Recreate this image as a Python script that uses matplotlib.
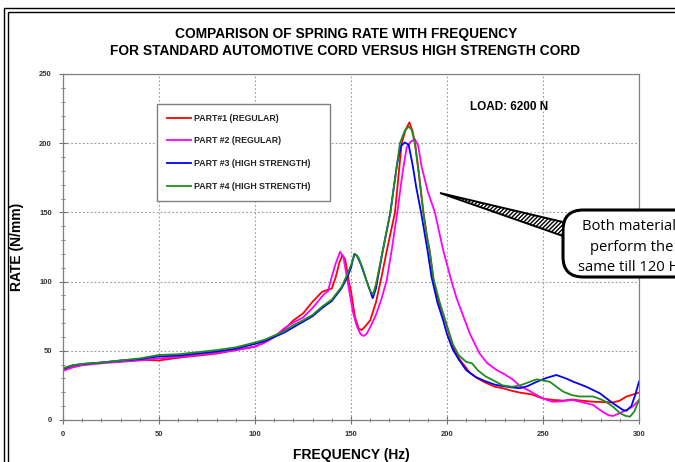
import matplotlib
matplotlib.use("Agg")
import matplotlib.pyplot as plt
from matplotlib.patches import Rectangle, FancyBboxPatch, Polygon

# ---------------- data ----------------
title_lines = ["COMPARISON OF SPRING RATE WITH FREQUENCY",
               "FOR STANDARD AUTOMOTIVE CORD VERSUS HIGH STRENGTH CORD"]
series_labels = ["PART#1 (REGULAR)", "PART #2 (REGULAR)",
                 "PART #3 (HIGH STRENGTH)", "PART #4 (HIGH STRENGTH)"]

p1_x = [0, 5, 10, 20, 30, 40, 50, 60, 70, 80, 90, 100, 105, 110, 115, 120, 125, 130,
        135, 140, 142, 144, 145.5, 147, 149, 150, 152, 154, 155.5, 157, 160, 163, 166,
        168.6, 172.9, 176.4, 178.5, 180.4, 182, 183.3, 185, 187.7, 189.5, 191, 193, 196,
        199, 202, 204, 207, 212, 216, 220, 225, 229.3, 234, 238, 244, 250, 255, 260.5,
        265, 270, 276, 280, 286.5, 290, 293.4, 300]
p1_y = [36.5, 39, 40, 41.5, 42.5, 43.5, 43, 45, 46.5, 48, 50.5, 53, 56, 60, 65, 72, 77,
        85.5, 92.7, 95, 103, 114, 119, 116, 99, 93, 75, 66, 65, 67, 72, 85, 104, 122,
        150, 200, 210, 215, 209, 200, 182, 150, 133, 122, 100, 84, 72, 58, 50, 43, 34,
        30, 27, 24, 22.9, 21, 19.8, 18.5, 15.5, 14.5, 14, 14.8, 14, 13.2, 13, 12.7, 14,
        16.9, 19.8]

p2_x = [0, 5, 10, 20, 30, 40, 50, 60, 70, 80, 90, 100, 105, 110, 115, 120, 125, 130,
        133, 136, 138, 140, 142, 144.3, 146, 147, 149, 151, 153, 155, 156.5, 158, 160,
        163, 166, 168.6, 171.2, 174.1, 177, 179, 181, 183.3, 185, 186.8, 190, 193.7,
        198, 202.4, 205, 208.5, 212, 217, 221, 226, 230, 234.5, 238, 243, 248, 252, 255,
        260, 265, 270, 276, 281, 284, 286.5, 290, 293.4, 297, 300]
p2_y = [35.5, 38, 39.5, 41, 42, 43, 44.5, 45.5, 47, 48.5, 50.5, 53, 56, 60, 66, 70.5,
        74, 81, 86, 91, 93, 103.6, 113, 121.5, 118, 110, 94, 78, 68, 62, 60.7, 62, 67,
        76, 88, 101, 122.8, 150, 180, 197, 201, 203, 198, 183, 165, 150, 122.8, 100, 88,
        75, 62, 48, 41, 36, 33, 29, 24.5, 21, 17, 14.5, 13.2, 13.5, 14.5, 13, 10.9, 6,
        3.5, 2.9, 5, 7.2, 10, 14.4]

p3_x = [0, 5, 10, 20, 30, 40, 50, 60, 70, 80, 90, 100, 105, 110, 115, 120, 125, 130,
        135, 140, 145, 148, 150, 151.7, 153, 155, 158, 161.3, 163, 166.5, 170.5, 174,
        176, 178, 180, 182, 184, 186.5, 189.8, 192, 195, 198, 200, 203, 206, 210, 215,
        220, 225, 229, 234, 238, 242, 246.7, 252, 257, 262, 265.7, 272.6, 279.6, 286.5,
        291.7, 293.5, 296, 298, 300]
p3_y = [37, 39.5, 40.5, 41.5, 43, 44, 46, 46.5, 48, 49.5, 51.5, 55, 57, 60, 63, 67, 71,
        75, 81, 86, 95, 103, 110, 120, 119, 113, 101, 88, 95, 122, 150, 185, 198, 200.5,
        199, 185, 168, 150, 123, 103, 85, 72, 62, 51, 44, 36, 31, 28, 25.5, 24.5, 23.5,
        23, 24.5, 27.6, 30.5, 32.5, 30, 27.7, 24, 19.3, 12, 7.2, 6.7, 10, 18, 27.7]

p4_x = [0, 5, 10, 20, 30, 40, 50, 60, 70, 80, 90, 100, 105, 110, 115, 120, 125, 130,
        135, 140, 145, 148, 150, 152, 154, 156, 158, 160, 161.5, 163, 166.5, 170.5,
        175.5, 178, 180, 181.5, 183.3, 185, 187.7, 189.5, 191, 193, 196, 200, 203, 206,
        210, 213, 216, 220, 225, 229, 234, 238, 242, 246.7, 250, 253.6, 257, 260.5, 265,
        269, 276, 280, 283, 287, 290, 293, 295.3, 297.5, 300]
p4_y = [37.5, 39.5, 40.5, 41.5, 43, 44.5, 47, 47.5, 49, 50.5, 52.5, 56, 58, 61, 64,
        68.6, 72, 76, 82, 87, 96, 105, 112, 120, 117, 110, 101, 93, 91, 98, 122, 150,
        200, 209, 212, 210, 200, 182, 150, 133, 122, 102, 86, 68, 55, 47, 42, 41, 36,
        31.6, 28, 25, 24, 25, 27, 29.4, 28.5, 27.6, 24, 20.5, 18, 17, 17, 15, 13, 9, 5,
        3, 2.4, 6, 14.5]

series_x = [p1_x, p2_x, p3_x, p4_x]
series_y = [p1_y, p2_y, p3_y, p4_y]
colors = ["#ff0000", "#ff00ff", "#0000ff", "#1e8c1e"]

x_ticks = [0, 50, 100, 150, 200, 250, 300]
y_ticks = [0, 50, 100, 150, 200, 250]
callout_text = "Both materials\nperform the\nsame till 120 Hz"

# ---------------- figure ----------------
W, H = 675, 462
fig = plt.figure(figsize=(W / 100, H / 100), dpi=100)
fig.patch.set_facecolor("white")
plt.rcParams["font.family"] = ["Liberation Sans", "DejaVu Sans"]

def fx(px):
    return px / W

def fy(py):
    return 1 - py / H

# double frame around the whole figure
for off in (4, 8):
    fig.add_artist(Rectangle((fx(off), fy(H + 20)), 1.2, (H + 20 - (off + 4)) / H,
                             transform=fig.transFigure, fill=False,
                             edgecolor="black", lw=1.0))

ax = fig.add_axes([fx(63), fy(420), (639 - 63) / W, (420 - 74) / H])
for lx, ly, c, lab in zip(series_x, series_y, colors, series_labels):
    ax.plot(lx, ly, color=c, lw=1.3, label=lab)

ax.set_xlim(0, 300)
ax.set_ylim(0, 250)
ax.set_xticks(x_ticks)
ax.set_yticks(y_ticks)
ax.set_xticks(range(0, 301, 10), minor=True)
ax.set_yticks(range(0, 251, 10), minor=True)
ax.tick_params(which="major", direction="inout", length=6, width=0.8,
               color="#707070", labelsize=5.5, pad=5)
ax.tick_params(which="minor", direction="inout", length=3, width=0.6, color="#707070")
for lbl in ax.get_xticklabels() + ax.get_yticklabels():
    lbl.set_fontweight("bold")
    lbl.set_color("#333333")
ax.grid(True, which="major", linestyle=(0, (1.5, 2)), color="#9a9a9a", lw=0.8)
for sp in ax.spines.values():
    sp.set_color("#808080")
    sp.set_linewidth(0.9)

ax.set_xlabel("FREQUENCY (Hz)", fontsize=10, fontweight="bold", labelpad=7)
ax.set_ylabel("RATE (N/mm)", fontsize=10, fontweight="bold", labelpad=11)

fig.text(fx(346), fy(34), title_lines[0], ha="center", va="center",
         fontsize=9.9, fontweight="bold")
fig.text(fx(345), fy(51), title_lines[1], ha="center", va="center",
         fontsize=9.9, fontweight="bold")

ax.text(212, 226, "LOAD: 6200 N", fontsize=8.5, fontweight="bold", va="center")

leg = ax.legend(loc="upper left",
                bbox_to_anchor=((157 - 63) / 576, (420 - 104) / 346, (330 - 157) / 576, 0),
                mode="expand", prop={"weight": "bold", "size": 6.3},
                labelspacing=1.58, handlelength=2.8, handletextpad=0.35,
                borderpad=1.1, borderaxespad=0, fancybox=False, framealpha=1)
leg.get_frame().set_edgecolor("#808080")
leg.get_frame().set_linewidth(1.0)
for t in leg.get_texts():
    t.set_color("#222222")

# callout (the reference shows it running off the right edge of the picture)
box = FancyBboxPatch((fx(563), fy(277)), fx(160), (277 - 210) / H,
                     boxstyle="round,pad=0,rounding_size=0.03",
                     transform=fig.transFigure, facecolor="white",
                     edgecolor="black", lw=2.2, mutation_aspect=W / H)
fig.add_artist(box)
wedge = Polygon([(fx(440), fy(193)), (fx(563), fy(222)), (fx(563), fy(236))],
                closed=True, transform=fig.transFigure, facecolor="white",
                edgecolor="black", lw=1.4, hatch="////////")
fig.add_artist(wedge)
fig.text(fx(632), fy(247), callout_text, ha="center", va="center",
         fontsize=10.6, family=["Open Sans", "DejaVu Sans"], linespacing=1.5)

fig.savefig("out.png", dpi=100)
